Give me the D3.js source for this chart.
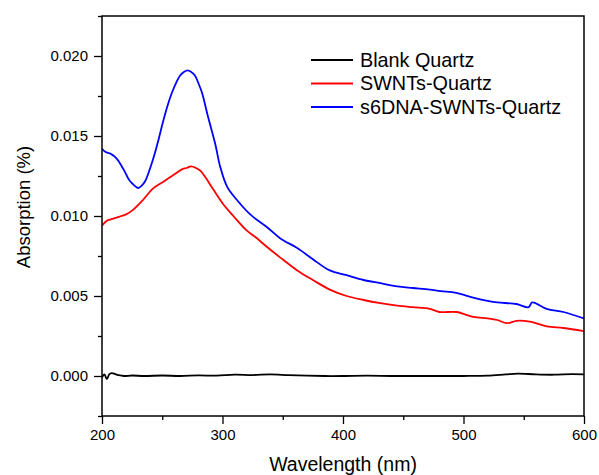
<!DOCTYPE html>
<html>
<head>
<meta charset="utf-8">
<script src="https://cdn.jsdelivr.net/npm/d3@7"></script>
<style>
  body { margin: 0; background: #fff; }
  svg { font-family: "Liberation Sans", Arial, sans-serif; }
</style>
</head>
<body>
<div id="chart"></div>
<script>
// wavelength (nm) / absorption (%)
const blankWl  = [200, 202, 204, 206, 208, 211, 214, 218, 225, 235, 250, 265, 280, 295, 310, 325, 340, 355, 370, 385, 400, 420, 440, 460, 480, 500, 520, 535, 545, 560, 575, 590, 600];
const blankAbs = [-0.0001, 0.0001, -0.0002, 0.0001, 0.00018, 0.00012, 0.00005, 0.0, 0.00003, 0.0, 0.00003, 0.0, 0.00004, 0.00002, 0.00008, 0.00006, 0.0001, 0.00005, 0.00002, 0.0, 0.0, 0.00002, 0.0, 0.0, 0.0, 0.0, 0.00002, 0.0001, 0.00015, 0.0001, 0.00008, 0.00012, 0.0001];

const swntWl  = [200, 204, 208, 212, 216, 220, 226, 234, 242, 250, 256, 262, 266, 270, 274, 278, 282, 286, 292, 300, 309, 320, 327, 338, 348, 362, 375, 389, 403, 417, 431, 445, 458, 472, 480, 494, 508, 520, 528, 536, 544, 555, 569, 583, 600];
const swntAbs = [0.0094, 0.0097, 0.0098, 0.0099, 0.0100, 0.0101, 0.0104, 0.0110, 0.0117, 0.0121, 0.0124, 0.0127, 0.0129, 0.0130, 0.0131, 0.0130, 0.0128, 0.0124, 0.0117, 0.0108, 0.0100, 0.0091, 0.0087, 0.0080, 0.0074, 0.0066, 0.0060, 0.0054, 0.0050, 0.00475, 0.00455, 0.0044, 0.0043, 0.0042, 0.0040, 0.0040, 0.0037, 0.0036, 0.0035, 0.0033, 0.00345, 0.0034, 0.0031, 0.0030, 0.0028];

const dnaWl  = [200, 203, 207, 212, 218, 223, 227, 230, 233, 236, 240, 243, 247, 250, 254, 258, 262, 265, 268, 271, 274, 277, 280, 283, 288, 294, 298, 304, 312, 323, 337, 348, 362, 375, 389, 403, 417, 431, 445, 458, 472, 481, 494, 508, 520, 528, 544, 554, 557, 569, 583, 600];
const dnaAbs = [0.0142, 0.0140, 0.0139, 0.0136, 0.0129, 0.0122, 0.0119, 0.01175, 0.0119, 0.0122, 0.0130, 0.0137, 0.0148, 0.0157, 0.0168, 0.0177, 0.0184, 0.0188, 0.0190, 0.0191, 0.0190, 0.0188, 0.0183, 0.0177, 0.0162, 0.0145, 0.0131, 0.0118, 0.0110, 0.0101, 0.0093, 0.0086, 0.0080, 0.0073, 0.0066, 0.0063, 0.0060, 0.0058, 0.0056, 0.0055, 0.0054, 0.0053, 0.0052, 0.0049, 0.0047, 0.0046, 0.0045, 0.0043, 0.0046, 0.0042, 0.0040, 0.0036];

const seriesNames = ["Blank Quartz", "SWNTs-Quartz", "s6DNA-SWNTs-Quartz"];
const seriesColors = ["#000000", "#ff0000", "#0000ff"];
const xTicks = [200, 300, 400, 500, 600];
const yTicks = [0.000, 0.005, 0.010, 0.015, 0.020];

const width = 599;
const height = 475;
const margin = { top: 16, right: 15, bottom: 59, left: 102 };

const svg = d3.select("#chart")
  .append("svg")
  .attr("width", width)
  .attr("height", height);

const x = d3.scaleLinear()
  .domain([200, 600])
  .range([margin.left, width - margin.right]);

const y = d3.scaleLinear()
  .domain([-0.0025, 0.0225])
  .range([height - margin.bottom, margin.top]);

const series = [
  { name: seriesNames[0], color: seriesColors[0], pts: d3.zip(blankWl, blankAbs) },
  { name: seriesNames[1], color: seriesColors[1], pts: d3.zip(swntWl, swntAbs) },
  { name: seriesNames[2], color: seriesColors[2], pts: d3.zip(dnaWl, dnaAbs) }
];

const line = d3.line()
  .x(d => x(d[0]))
  .y(d => y(d[1]))
  .curve(d3.curveCatmullRom);

// curves (clip to plot box)
svg.append("clipPath").attr("id", "clip")
  .append("rect")
  .attr("x", margin.left).attr("y", margin.top)
  .attr("width", width - margin.left - margin.right)
  .attr("height", height - margin.top - margin.bottom);

svg.append("g")
  .attr("clip-path", "url(#clip)")
  .selectAll("path")
  .data(series)
  .join("path")
  .attr("fill", "none")
  .attr("stroke", d => d.color)
  .attr("stroke-width", 1.8)
  .attr("stroke-linejoin", "round")
  .attr("d", d => line(d.pts));

// frame
svg.append("rect")
  .attr("x", margin.left)
  .attr("y", margin.top)
  .attr("width", width - margin.left - margin.right)
  .attr("height", height - margin.top - margin.bottom)
  .attr("fill", "none")
  .attr("stroke", "#000")
  .attr("stroke-width", 1.5);

// minor ticks
svg.append("g")
  .attr("transform", `translate(0,${height - margin.bottom})`)
  .call(d3.axisBottom(x).tickValues([250, 350, 450, 550]).tickSize(4).tickFormat(""))
  .call(g => g.select(".domain").remove())
  .selectAll("line").attr("stroke-width", 1.3);

svg.append("g")
  .attr("transform", `translate(${margin.left},0)`)
  .call(d3.axisLeft(y).tickValues([-0.0025, 0.0025, 0.0075, 0.0125, 0.0175, 0.0225]).tickSize(4).tickFormat(""))
  .call(g => g.select(".domain").remove())
  .selectAll("line").attr("stroke-width", 1.3);

// X Axis
svg.append("g")
  .attr("transform", `translate(0,${height - margin.bottom})`)
  .call(d3.axisBottom(x).tickValues(xTicks).tickSize(8).tickPadding(5))
  .call(g => g.select(".domain").remove())
  .call(g => g.selectAll("line").attr("stroke-width", 1.3))
  .selectAll("text")
  .attr("fill", "#000")
  .style("font-size", "15px")
  .style("font-family", "'Liberation Sans', Arial, sans-serif");

// Y Axis
svg.append("g")
  .attr("transform", `translate(${margin.left},0)`)
  .call(d3.axisLeft(y).tickValues(yTicks).tickSize(8).tickPadding(6).tickFormat(d3.format(".3f")))
  .call(g => g.select(".domain").remove())
  .call(g => g.selectAll("line").attr("stroke-width", 1.3))
  .selectAll("text")
  .attr("fill", "#000")
  .style("font-size", "15px")
  .style("font-family", "'Liberation Sans', Arial, sans-serif");

// X Axis Label
svg.append("text")
  .attr("x", x(400))
  .attr("y", 471)
  .attr("text-anchor", "middle")
  .style("font-size", "19.5px")
  .text("Wavelength (nm)");

// Y Axis Label
svg.append("text")
  .attr("transform", "rotate(-90)")
  .attr("x", -207)
  .attr("y", 30)
  .attr("text-anchor", "middle")
  .style("font-size", "18.5px")
  .text("Absorption (%)");

// Legend
const legend = svg.append("g")
  .selectAll("g")
  .data(series)
  .join("g")
  .attr("transform", (d, i) => `translate(311,${60 + i * 23.5})`);

legend.append("line")
  .attr("x1", 0).attr("x2", 42)
  .attr("stroke", d => d.color)
  .attr("stroke-width", 1.8);

legend.append("text")
  .attr("x", 49)
  .attr("dy", "0.35em")
  .style("font-size", "19.8px")
  .text(d => d.name);
</script>
</body>
</html>
